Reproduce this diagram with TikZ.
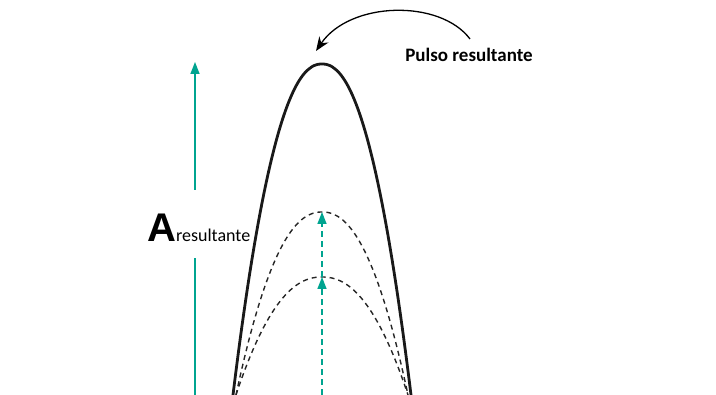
\documentclass[tikz,border=0pt]{standalone}
\usepackage{fontspec}
\setmainfont{Carlito}
\newfontfamily\bigAfont{Liberation Sans}
\usetikzlibrary{arrows.meta}
\definecolor{teal}{RGB}{0,164,144}
\tikzset{
	pulse/.style={line width=2.8pt, black!90},
	subpulse/.style={line width=1.4pt, black!85, dash pattern=on 5pt off 4pt},
	amparrow/.style={line width=1.6pt, teal, -{Triangle[width=9pt,length=12pt]}},
	subarrow/.style={line width=1.6pt, teal, dash pattern=on 6pt off 4pt, -{Triangle[width=9pt,length=12pt]}}
}
\begin{document}
\begin{tikzpicture}[x=1pt,y=1pt]
		\useasboundingbox (0,0) rectangle (716,395);
		
		% Resulting pulse
		\draw[pulse] plot[domain=-89:89, samples=121, smooth] ({322+\x},{331*(1-abs(\x/89)^2.2)});
		\coordinate (peak) at (322,331);
		
		% Component pulses
		\draw[subpulse] plot[domain=-86:86, samples=101, smooth] ({322+\x},{183*(1-abs(\x/86)^2.2)});
		\draw[subpulse] plot[domain=-86:86, samples=101, smooth] ({322+\x},{118*(1-abs(\x/86)^2.2)});
		\coordinate (peakA) at (322,183);
		\coordinate (peakB) at (322,118);
		\coordinate (mid) at (322,0);
		
		% Amplitudes of the components
		\draw[subarrow] (mid) -- (peakB);
		\draw[subarrow] (peakB) -- (peakA);
		
		% Resulting amplitude
		\node[anchor=base west, inner sep=0pt] (ares) at (147,153)
			{{\bigAfont\bfseries\fontsize{40}{40}\selectfont A}{\fontsize{18}{18}\selectfont resultante}};
		\coordinate (abot) at (195,0);
		\coordinate (alow) at (195,137);
		\coordinate (ahigh) at (195,205);
		\coordinate (atop) at (195,333);
		\draw[line width=1.6pt, teal] (abot) -- (alow);
		\draw[amparrow] (ahigh) -- (atop);
		
		% Label of the resulting pulse
		\node[anchor=base, inner sep=0pt, font=\bfseries\fontsize{19}{19}\selectfont] (lbl) at (469,333) {Pulso resultante};
		\coordinate (lblstart) at (470,356);
		\draw[line width=1.3pt, -{Stealth[length=14pt,width=11pt]}] (lblstart) .. controls (440,396) and (350,394) .. (316,344);
\end{tikzpicture}
\end{document}
